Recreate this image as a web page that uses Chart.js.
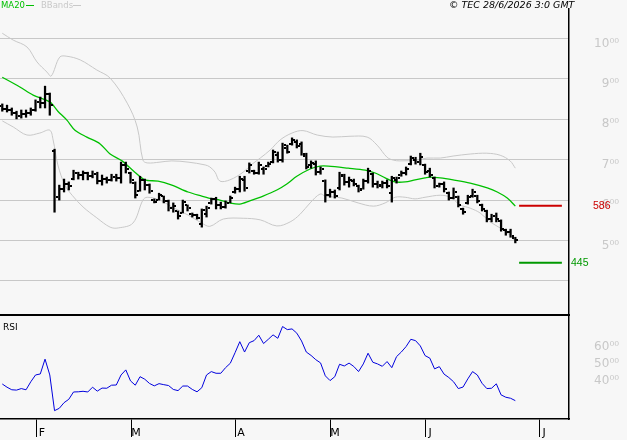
<!DOCTYPE html>
<html lang="en">
<head>
<meta charset="UTF-8">
<meta name="viewport" content="width=device-width, initial-scale=1.0">
<title>TEC daily chart</title>
<script src="https://cdn.jsdelivr.net/npm/chart.js"></script>
<style>
  body { margin: 0; background: #f7f7f7; }
  #wrap { position: relative; width: 627px; height: 440px; overflow: hidden; background: #f7f7f7; font-family: "DejaVu Sans", sans-serif; }
  canvas { position: absolute; left: 0; }
  #priceChart { top: 0; }
  #rsiChart { top: 316px; }
  .txt { position: absolute; white-space: nowrap; line-height: 10px; }
  .mark { position: absolute; height: 0; }
</style>
</head>
<body>
<div id="wrap">
  <canvas id="priceChart" width="627" height="316"></canvas>
  <canvas id="rsiChart" width="627" height="124"></canvas>

  <span class="txt" style="left:1px; top:0px; font-size:8.5px; color:#00c000;">MA20</span>
  <span class="mark" style="left:26px; top:5px; width:8px; border-top:1.5px solid #00c000;"></span>
  <span class="txt" style="left:41px; top:0px; font-size:8.5px; color:#c8c8c8;">BBands</span>
  <span class="mark" style="left:73px; top:5px; width:8px; border-top:1px solid #c8c8c8;"></span>
  <span class="txt" style="left:449px; top:0px; font-size:9.5px; font-style:italic; color:#000;">© TEC 28/6/2026 3:0 GMT</span>
  <span class="txt" style="left:3px; top:322px; font-size:9px; color:#000;">RSI</span>
</div>

<script>
    // One entry per trading day, day 0 = first bar on the left
    var opens = [832,826,822,815,808,812,815,822,842,840, 862,721,607,628,640,652,668,662,666,660,
                 665,648,652,650,658,655,686,667,642,622, 650,638,600,600,610,598,580,573,568,588,
                 566,562,540,566,592,602,588,584,594,620, 628,650,672,672,668,678,684,694,712,700,
                 730,740,745,740,710,686,690,670,648,612, 620,630,660,645,648,636,628,648,665,640,
                 638,642,618,650,662,668,690,700,694,686, 672,655,636,640,618,606,608,578,592,610,
                 610,588,572,552,560,548,525,520,505];
    var highs = [838,835,828,820,823,823,828,848,855,882, 865,726,637,652,645,674,669,672,669,672,
                 669,662,657,664,664,694,694,669,645,659, 652,640,603,617,610,600,593,573,600,588,
                 568,565,578,585,605,607,595,598,610,632, 659,659,692,674,694,682,694,724,719,741,
                 736,754,749,744,716,697,697,682,650,627, 625,669,664,657,652,637,652,679,667,647,
                 647,650,659,657,672,682,709,706,716,689, 679,657,642,645,620,630,610,580,612,627,
                 612,590,575,565,568,551,528,528,508];
    var lows = [820,818,810,801,803,805,810,820,828,828, 810,570,600,620,625,650,652,650,650,655,
                640,637,642,647,647,642,667,642,605,622, 625,617,593,600,593,573,570,553,568,573,
                558,553,533,558,590,578,578,580,593,617, 620,622,667,664,664,664,682,692,694,694,
                716,736,729,711,677,679,662,664,595,607, 605,625,637,632,635,620,627,642,632,630,
                630,630,595,642,659,662,687,689,687,664, 657,630,632,620,600,603,583,565,590,607,
                593,573,546,546,546,523,513,508,494];
    var closes = [826,822,815,808,812,815,822,842,840,862, 835,607,628,640,634,668,662,666,660,665,
                  648,652,650,658,655,686,676,650,612,650, 638,622,596,612,598,580,585,560,595,580,
                  562,556,575,580,602,588,584,592,606,628, 652,630,688,668,688,676,690,718,700,736,
                  720,748,735,715,682,692,670,676,612,620, 610,662,645,650,640,624,648,672,640,636,
                  642,634,655,654,668,678,704,694,706,670, 662,635,640,628,604,620,588,570,608,620,
                  598,578,552,560,552,528,520,512,500];

    var rsi = [38.2,36.3,34.8,34.6,35.5,34.8,39.5,43.5,44.1,52.8, 43.5,22.5,23.9,27.2,29.2,33.5,33.6,33.9,33.5,36.3,
               34,35.8,35.7,37.5,37.6,43.5,46.5,40,37.5,42.5, 41,38.5,37.1,38.4,37.8,37.3,35,34.3,37,37,
               35,33.6,36,43.5,45.5,44.5,44.5,47.8,50.4,56.6, 63.1,57,62.5,63.7,66.9,62,64.5,67.1,65.1,72,
               70.2,70.6,68.1,63.5,57,55,52.5,50.6,43,40.2, 42.5,49.8,48.8,50.5,48.5,45.5,50,56.3,51,50,
               48.6,51.4,47.8,54.3,57,60.2,64.5,63.7,60.6,54.9, 53.4,47.1,48.4,44,42,39.5,35.5,36.4,41.2,45.5,
               43.5,38.6,35.5,35.7,38.3,31.8,30.4,29.8,28.4];

    // MA20 and Bollinger bands (day, value)
    var maDays = [0,3.7,6.5,10,11.7,13.6,15.3,17.8,20.6,22.7,25.2,27.9,30,32.8,35.7,39.1,42,44.2,45.8,47.9,50,52.1,54.9,57.8,59.9,62,64.8,66.9,68.6,72.8,76.4,78.5,80.6,82.7,84.8,86.9,89,90,92.2,94.9,98.5,102.1,104.2,106.3,108];
    var maValues = [904,880,860,843,820,798,773,756,739,714,697,669,650,647,637,620,610,603,600,593,590,598,610,625,640,659,677,684,684,679,674,667,655,645,645,650,655,657,655,650,642,630,620,605,585];

    var upperDays = [0,2.3,5.2,7.3,9.4,10.3,12.1,13.6,16.4,19.9,22.7,26.3,28.4,29.6,30.5,33.2,35.7,39.1,42.7,43.7,44.8,45.8,47.9,50.7,52.6,54.3,56.4,58.5,61,63.3,66.3,69.6,73.2,76.8,78.9,81,82.3,83.7,87.3,89.4,92.2,94.9,98.5,102,104.8,106.9,108];
    var upperValues = [1013,996,979,942,917,907,954,956,947,922,902,840,781,699,692,694,697,694,687,682,669,647,650,669,689,704,724,749,766,772,761,756,758,756,736,706,699,697,699,704,704,709,714,716,711,697,679];

    var lowerDays = [0,2.3,5.2,7.9,10,10.7,11.7,13.2,14.7,17,19.9,22.7,24.4,27.5,29.6,30.5,33.2,35.7,39.1,42,43.7,46.5,50.7,54.3,57.8,60.6,62.7,64.8,66.9,68,71.5,74.9,78.1,80.6,82.7,84.8,86.9,89,92.2,94.3,96.4,98.5,100.6,102.7,104.8,106.9,108];
    var lowerValues = [796,781,761,766,773,749,687,637,612,583,556,533,531,543,600,607,600,583,563,543,535,553,555,551,536,546,565,593,615,610,605,593,585,593,607,607,603,607,612,607,588,580,568,546,531,513,496];

    var monthTicks = [7.3, 27.1, 49.2, 69, 89, 113];
    var monthLabels = ['F', 'M', 'A', 'M', 'J', 'J'];
    var priceTicks = [400, 500, 600, 700, 800, 900, 1000];
    var rsiTicks = [40, 50, 60];

    var resistance = 586;
    var support = 445;
    var levelFrom = 108.8, levelTo = 117.8;
    var xMin = -0.48, xMax = 119.3;

    function pts(days, values) {
        return days.map(function (d, i) { return { x: d, y: values[i] }; });
    }
    // 1000 -> "10⁰⁰"
    function sup(v) {
        return (v / 100) + '\u2070\u2070';
    }
    // keep the tick labels from shrinking the plot area
    function noPad(s) {
        s.paddingTop = 0;
        s.paddingBottom = 0;
        s.paddingLeft = 0;
        s.paddingRight = 0;
    }

    // open / close ticks, panel separator and the level labels
    var ohlcTicks = {
        id: 'ohlcTicks',
        afterDatasetsDraw: function (chart) {
            var ctx = chart.ctx, area = chart.chartArea;
            var x = chart.scales.x, y = chart.scales.y;
            ctx.save();
            ctx.fillStyle = '#000';
            opens.forEach(function (o, i) {
                var px = Math.round(x.getPixelForValue(i));
                ctx.fillRect(px - 3, Math.round(y.getPixelForValue(o)) - 1, 2, 2);
                ctx.fillRect(px + 1, Math.round(y.getPixelForValue(closes[i])) - 1, 2, 2);
            });
            ctx.fillRect(0, area.bottom, area.right + 1, 2);
            ctx.font = '10.5px "Liberation Sans"';
            ctx.textBaseline = 'middle';
            ctx.fillStyle = '#cc0000';
            ctx.fillText(String(resistance), 593, y.getPixelForValue(resistance));
            ctx.fillStyle = '#009900';
            ctx.fillText(String(support), 571, y.getPixelForValue(support));
            ctx.restore();
        }
    };

    var priceChart = new Chart(document.getElementById('priceChart'), {
        type: 'line',
        data: {
            datasets: [
                {
                    type: 'bar',
                    data: highs.map(function (h, i) { return { x: i, y: [lows[i], h] }; }),
                    backgroundColor: '#000',
                    barThickness: 1.6,
                    grouped: false,
                    order: 0
                },
                { data: pts(maDays, maValues), borderColor: '#00c000', borderWidth: 1.3, pointRadius: 0, tension: 0.3, order: 1 },
                { data: pts(upperDays, upperValues), borderColor: '#c8c8c8', borderWidth: 1, pointRadius: 0, tension: 0.35, order: 2 },
                { data: pts(lowerDays, lowerValues), borderColor: '#c8c8c8', borderWidth: 1, pointRadius: 0, tension: 0.35, order: 2 },
                { data: [{ x: levelFrom, y: resistance }, { x: levelTo, y: resistance }], borderColor: '#cc0000', borderWidth: 2, pointRadius: 0, order: 1 },
                { data: [{ x: levelFrom, y: support }, { x: levelTo, y: support }], borderColor: '#009900', borderWidth: 2, pointRadius: 0, order: 1 }
            ]
        },
        options: {
            responsive: false,
            animation: false,
            devicePixelRatio: 1,
            layout: { padding: { top: 9, bottom: 2, left: 0, right: 8 } },
            plugins: { legend: { display: false }, tooltip: { enabled: false } },
            scales: {
                x: { type: 'linear', min: xMin, max: xMax, offset: false, display: false },
                y: {
                    position: 'right',
                    min: 318,
                    max: 1073,
                    afterBuildTicks: function (s) { s.ticks = priceTicks.map(function (v) { return { value: v }; }); },
                    afterFit: function (s) { s.width = 50; noPad(s); },
                    grid: { color: '#c8c8c8', drawTicks: false },
                    border: { color: '#000', width: 1.5 },
                    ticks: {
                        callback: function (v) { return v >= 500 ? sup(v) : ''; },
                        color: '#c8c8c8',
                        font: { family: 'DejaVu Sans', size: 12 },
                        crossAlign: 'far',
                        padding: 17,
                        labelOffset: 5
                    }
                }
            }
        },
        plugins: [ohlcTicks]
    });

    var rsiChart = new Chart(document.getElementById('rsiChart'), {
        type: 'line',
        data: {
            datasets: [{
                data: rsi.map(function (v, i) { return { x: i, y: v }; }),
                borderColor: '#0000dd',
                borderWidth: 1,
                pointRadius: 0,
                tension: 0
            }]
        },
        options: {
            responsive: false,
            animation: false,
            devicePixelRatio: 1,
            layout: { padding: { top: 0, bottom: 0, left: 0, right: 8 } },
            plugins: { legend: { display: false }, tooltip: { enabled: false } },
            scales: {
                x: {
                    type: 'linear',
                    min: xMin,
                    max: xMax,
                    offset: false,
                    afterBuildTicks: function (s) { s.ticks = monthTicks.map(function (v) { return { value: v }; }); },
                    afterFit: function (s) { s.height = 21; noPad(s); },
                    grid: { drawOnChartArea: false, drawTicks: true, tickLength: 18, color: '#000', lineWidth: 1 },
                    border: { color: '#000', width: 1.5 },
                    ticks: {
                        callback: function (v) { return monthLabels[monthTicks.indexOf(v)]; },
                        color: '#000',
                        font: { family: 'DejaVu Sans', size: 11 },
                        autoSkip: false,
                        maxRotation: 0,
                        labelOffset: 5,
                        padding: -10
                    }
                },
                y: {
                    position: 'right',
                    min: 17.6,
                    max: 78.2,
                    afterBuildTicks: function (s) { s.ticks = rsiTicks.map(function (v) { return { value: v }; }); },
                    afterFit: function (s) { s.width = 50; noPad(s); },
                    grid: { display: false },
                    border: { color: '#000', width: 1.5 },
                    ticks: {
                        callback: function (v) { return sup(v * 100); },
                        color: '#c8c8c8',
                        font: { family: 'DejaVu Sans', size: 12 },
                        crossAlign: 'far',
                        padding: 17
                    }
                }
            }
        }
    });
</script>
</body>
</html>
